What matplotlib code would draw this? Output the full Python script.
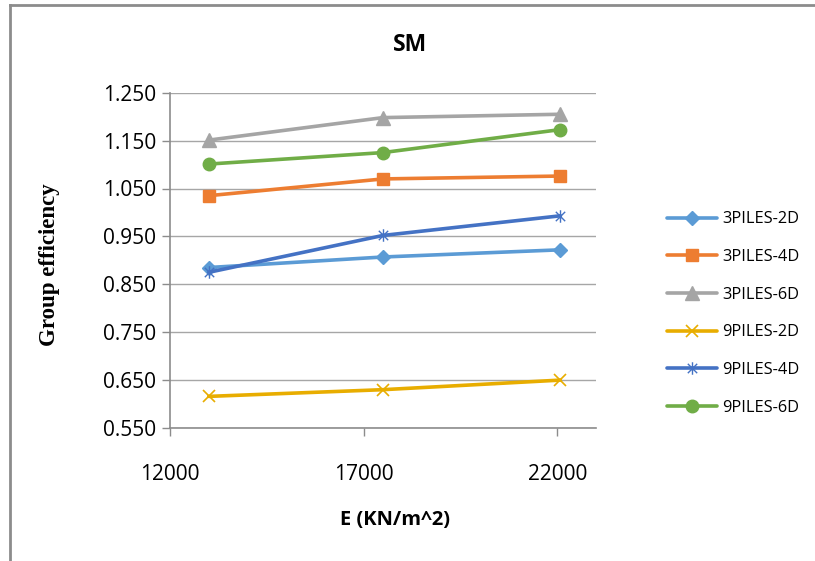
import matplotlib
matplotlib.use("Agg")
import matplotlib.pyplot as plt
from matplotlib.path import Path
from matplotlib.lines import Line2D

# Data
e_values = [13000, 17500, 22080]
series_names = ["3PILES-2D", "3PILES-4D", "3PILES-6D", "9PILES-2D", "9PILES-4D", "9PILES-6D"]
piles3_2d = [0.885, 0.907, 0.922]
piles3_4d = [1.035, 1.070, 1.076]
piles3_6d = [1.151, 1.198, 1.205]
piles9_2d = [0.616, 0.630, 0.650]
piles9_4d = [0.875, 0.952, 0.993]
piles9_6d = [1.101, 1.125, 1.173]
x_ticks = [12000, 17000, 22000]
y_ticks = [0.55, 0.65, 0.75, 0.85, 0.95, 1.05, 1.15, 1.25]

star = Path([(0, -1), (0, 1), (-0.75, -0.75), (0.75, 0.75), (-0.75, 0.75), (0.75, -0.75)],
            [Path.MOVETO, Path.LINETO, Path.MOVETO, Path.LINETO, Path.MOVETO, Path.LINETO])

styles = [
    dict(color="#5B9BD5", marker="D", ms=7.5),
    dict(color="#ED7D31", marker="s", ms=8.5),
    dict(color="#A5A5A5", marker="^", ms=9.5),
    dict(color="#E8AD00", marker="x", ms=8, mew=1.2),
    dict(color="#4472C4", marker=star, ms=9, mew=1.0),
    dict(color="#70AD47", marker="o", ms=9),
]
data = [piles3_2d, piles3_4d, piles3_6d, piles9_2d, piles9_4d, piles9_6d]

fig = plt.figure(figsize=(8.15, 5.61), dpi=100)
ax = fig.add_axes([170/815, 1-428/561, (596-170)/815, (428-92.7)/561])

for name, vals, st in zip(series_names, data, styles):
    kw = dict(color=st["color"], lw=2.6, marker=st["marker"], markersize=st["ms"],
              markerfacecolor=st["color"], markeredgecolor=st["color"], label=name,
              solid_capstyle="round", zorder=3)
    if "mew" in st:
        kw["markeredgewidth"] = st["mew"]
    ax.plot(e_values, vals, **kw)

ax.set_xlim(12000, 23000)
ax.set_ylim(0.55, 1.25)
ax.set_xticks(x_ticks)
ax.set_yticks(y_ticks)
ax.set_yticklabels([f"{v:.3f}" for v in y_ticks])
ax.grid(axis="y", color="#A6A6A6", lw=1.0, zorder=0)
ax.set_axisbelow(True)
for s in ["top", "right"]:
    ax.spines[s].set_visible(False)
for s in ["left", "bottom"]:
    ax.spines[s].set_color("#8C8C8C")
    ax.spines[s].set_linewidth(1.2)
ax.tick_params(axis="both", colors="#8C8C8C", length=6, width=1.0, direction="out",
               labelcolor="black", labelsize=15)
ax.tick_params(axis="x", pad=20)
ax.tick_params(axis="y", pad=4)
for lab in ax.get_xticklabels() + ax.get_yticklabels():
    lab.set_family("Open Sans")

fig.text(410/815, 1-45/561, "SM", ha="center", va="center", fontsize=16.5,
         fontweight="bold", family="Open Sans")
fig.text(395/815, 1-520/561, "E (KN/m^2)", ha="center", va="center", fontsize=14.5,
         fontweight="bold", family="Open Sans")
fig.text(50/815, 1-265/561, "Group efficiency", ha="center", va="center", fontsize=16.5,
         fontweight="bold", family="Liberation Serif", rotation=90)

leg = fig.legend(loc="center left", bbox_to_anchor=(660/815, 1-313.5/561), frameon=False,
                 prop=dict(family="Open Sans", size=11.8), handlelength=3.1,
                 labelspacing=1.32, handletextpad=0.3, borderaxespad=0)

# outer frame (left and top edges)
fig.add_artist(Line2D([10/815, 10/815], [0, 1-5/561], transform=fig.transFigure,
                      color="#8C8C8C", lw=2.0))
fig.add_artist(Line2D([10/815, 1], [1-5/561, 1-5/561], transform=fig.transFigure,
                      color="#8C8C8C", lw=2.0))

fig.savefig("out.png", dpi=100)
